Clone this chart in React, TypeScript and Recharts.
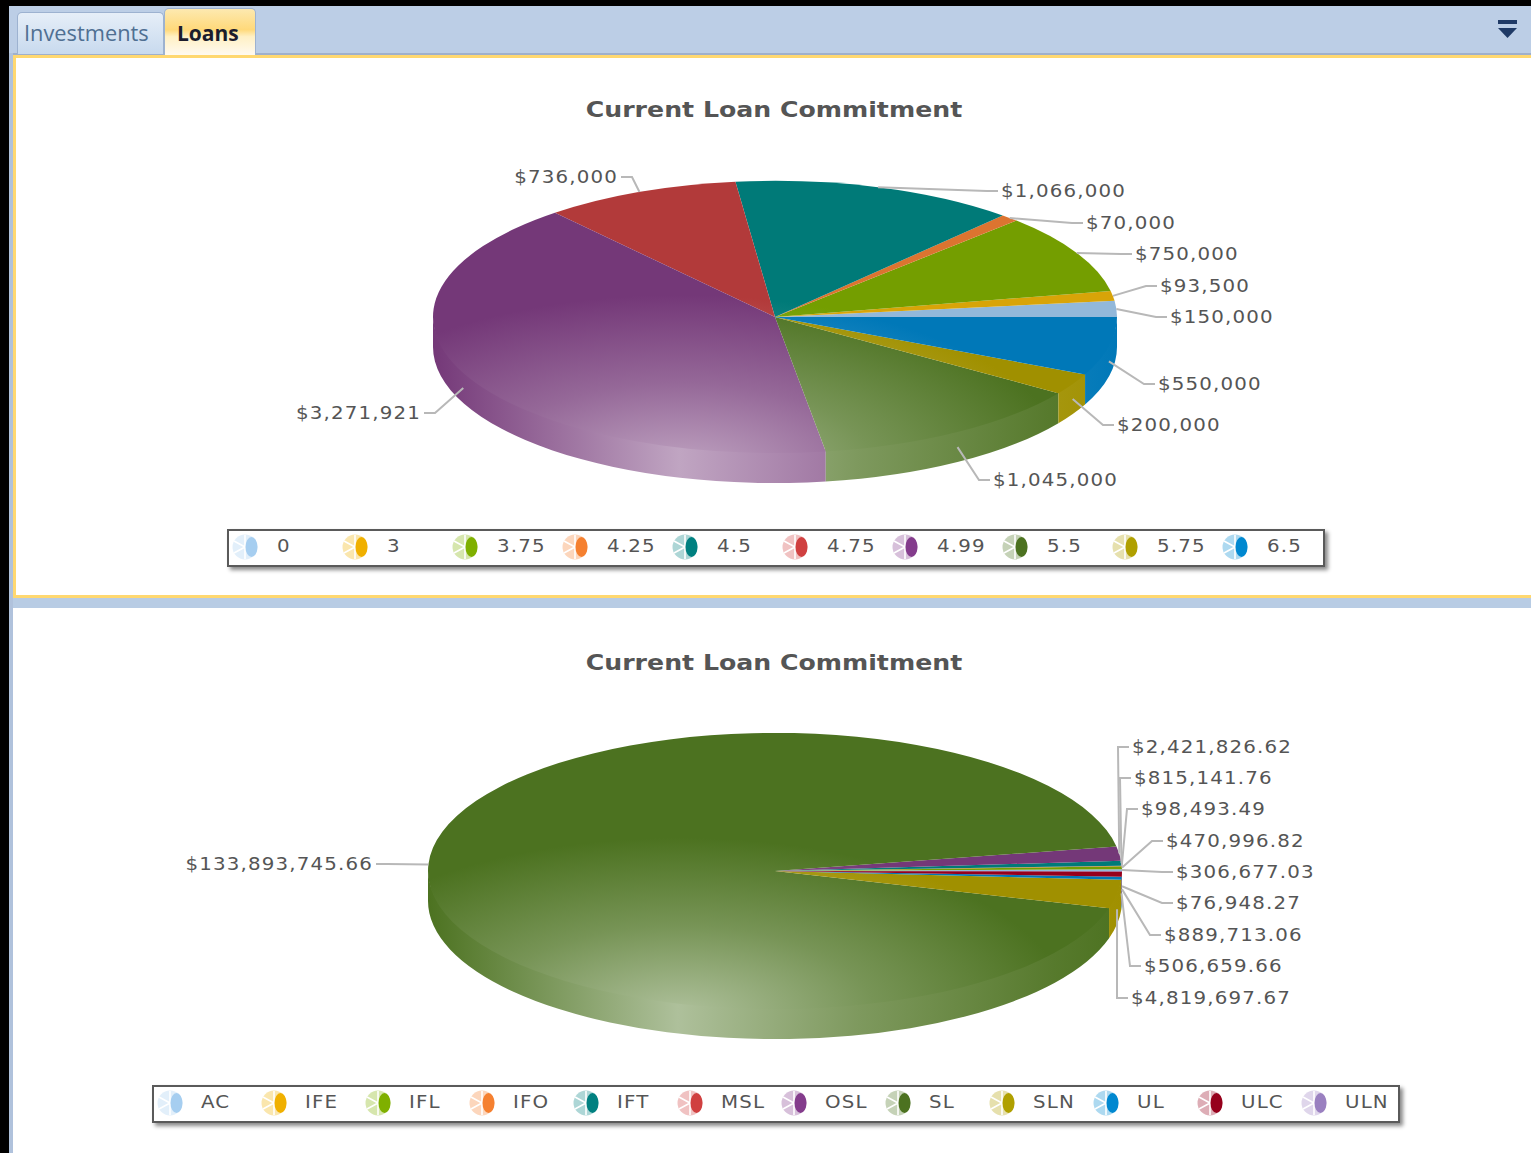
import React from "react";
import { PieChart, Pie, Legend } from "recharts";

const rateNames = ["0", "3", "3.75", "4.25", "4.5", "4.75", "4.99", "5.5", "5.75", "6.5"];
const rateValues = [150000, 93500, 750000, 70000, 1066000, 736000, 3271921, 1045000, 200000, 550000];
const rateLabels = ["$150,000", "$93,500", "$750,000", "$70,000", "$1,066,000", "$736,000", "$3,271,921", "$1,045,000", "$200,000", "$550,000"];

const productNames = ["AC", "IFE", "IFL", "IFO", "IFT", "MSL", "OSL", "SL", "SLN", "UL", "ULC", "ULN"];
const productValues = [306677.03, 0, 470996.82, 98493.49, 815141.76, 0, 2421826.62, 133893745.66, 4819697.67, 506659.66, 889713.06, 76948.27];
const productLabels = ["$306,677.03", "", "$470,996.82", "$98,493.49", "$815,141.76", "", "$2,421,826.62", "$133,893,745.66", "$4,819,697.67", "$506,659.66", "$889,713.06", "$76,948.27"];

const sliceColors = ["#92b8da", "#d8a408", "#749e00", "#dc7430", "#007a78", "#b23a3a", "#743878", "#4c7220", "#a09000", "#0078b8", "#96001c", "#8a74b4"];
const legendColors = ["#a6cef0", "#f0b000", "#7fb000", "#f58030", "#008080", "#d04040", "#843c8c", "#4c7220", "#b0a000", "#0088d0", "#96001c", "#9a80c0"];

// Layout of the outside labels (screen position of the text start / end), by slice
const rateSlots: [number, number, string][] = [
  [1170, 323, "start"], [1160, 292, "start"], [1135, 260, "start"], [1086, 229, "start"], [1001, 197, "start"],
  [618, 183, "end"], [421, 419, "end"], [993, 486, "start"], [1117, 431, "start"], [1158, 390, "start"],
];
const productSlots: ([number, number, string] | null)[] = [
  [1176, 270, "start"], null, [1166, 239, "start"], [1141, 207, "start"], [1134, 176, "start"], null,
  [1132, 145, "start"], [373, 262, "end"], [1131, 396, "start"], [1144, 364, "start"], [1164, 333, "start"], [1176, 301, "start"],
];

const RATIO = 0.398;
const DEPTH = 30;
const FONT = "'DejaVu Sans', sans-serif";

const mix = (hex: string, t: number) => {
  const n = parseInt(hex.slice(1), 16);
  const c = [(n >> 16) & 255, (n >> 8) & 255, n & 255].map((v) => Math.round(v + (255 - v) * t));
  return `rgb(${c[0]},${c[1]},${c[2]})`;
};

const pt = (cx: number, cy: number, r: number, a: number) => {
  const rad = (a * Math.PI) / 180;
  return [cx + r * Math.cos(rad), cy - r * RATIO * Math.sin(rad)];
};

const TopShape = (p: any) => {
  const { cx, cy, outerRadius: r, startAngle: a, endAngle: b, fill } = p;
  if (Math.abs(b - a) < 1e-6) return <g />;
  const [x1, y1] = pt(cx, cy, r, a);
  const [x2, y2] = pt(cx, cy, r, b);
  const large = b - a > 180 ? 1 : 0;
  return <path d={`M${cx},${cy}L${x1},${y1}A${r},${r * RATIO} 0 ${large} 0 ${x2},${y2}Z`} fill={fill} stroke="none" />;
};

const WallShape = (p: any) => {
  const { cx, cy, outerRadius: r, startAngle: a, endAngle: b, wall } = p;
  const s = Math.max(a, 180);
  const e = Math.min(b, 360);
  if (s >= e) return <g />;
  const [x1, y1] = pt(cx, cy, r, s);
  const [x2, y2] = pt(cx, cy, r, e);
  const ry = r * RATIO;
  const lap = 2; // wall runs slightly under the top face so no seam shows
  return <path d={`M${x1},${y1 - lap}A${r},${ry} 0 0 0 ${x2},${y2 - lap}L${x2},${y2 + DEPTH}A${r},${ry} 0 0 1 ${x1},${y1 + DEPTH}Z`} fill={wall} stroke="none" />;
};

const LeaderLabel = (slots: any[], texts: string[]) => (p: any) => {
  const slot = slots[p.index];
  if (!slot) return <g />;
  const [lx, ly, anchor] = slot;
  const r = p.outerRadius;
  let [ax, ay] = pt(p.cx, p.cy, r, p.midAngle);
  if (p.midAngle > 180) ay += DEPTH / 2;
  const dir = anchor === "start" ? 1 : -1;
  const line = `${ax},${ay} ${lx - dir * 14},${ly - 6} ${lx - dir * 3},${ly - 6}`;
  return (
    <g>
      <polyline points={line} fill="none" stroke="#b8b8b8" strokeWidth={2} />
      <text transform={`translate(${lx} ${ly}) scale(1.1 1)`} textAnchor={anchor} fontFamily={FONT} fontSize={18} letterSpacing={1.06} fill="#555">
        {texts[p.index]}
      </text>
    </g>
  );
};

const LegendIcon = ({ color }: { color: string }) => (
  <svg width={28} height={28} viewBox="0 0 28 28" style={{ display: "block" }}>
    <circle cx={14} cy={14} r={12.5} fill={color} opacity={0.32} />
    <path d="M14 14L3 8M14 14L3 20M14 14V2M14 14V26" stroke="#fff" strokeWidth={1.6} />
    <ellipse cx={20.5} cy={14} rx={6} ry={10} fill={color} />
  </svg>
);

type BoxProps = { payload?: any[]; step: number; textDx: number; iconDx: number; tops: number };
const LegendBox = ({ payload, step, textDx, iconDx, tops }: BoxProps) => {
  const seen = new Set<string>();
  const items = (payload || []).filter((it) => {
    if (seen.has(String(it.value))) return false;
    seen.add(String(it.value));
    return true;
  });
  return (
    <div style={{ position: "relative", width: "100%", height: "100%", boxSizing: "border-box", background: "#fff", border: "2px solid #5a5a5a", boxShadow: "3px 3px 4px #8a8a8a" }}>
      {items.map((item, i) => (
        <div key={i}>
          <div style={{ position: "absolute", left: iconDx + i * step - 14, top: tops - 14 }}>
            <LegendIcon color={legendColors[i]} />
          </div>
          <span style={{ position: "absolute", left: iconDx + i * step + textDx, top: tops - 13, fontFamily: FONT, fontSize: 18, letterSpacing: 1.06, transform: "scaleX(1.1)", transformOrigin: "0 50%", color: "#555", lineHeight: "24px", whiteSpace: "nowrap" }}>
            {item.value}
          </span>
        </div>
      ))}
    </div>
  );
};

const buildRows = (id: string, names: string[], values: number[]) =>
  names.map((name, i) => ({ name, value: values[i], fill: `url(#${id}top${i})`, wall: `url(#${id}wall${i})` }));

const Grads = ({ id, n, hx, hy, lo, hi }: { id: string; n: number; hx: number; hy: number; lo: number; hi: number }) => (
  <defs>
    {sliceColors.slice(0, n).map((c, i) => (
      <React.Fragment key={i}>
        <radialGradient id={`${id}top${i}`} gradientUnits="userSpaceOnUse" cx={0} cy={0} r={1} gradientTransform={`translate(${hx} ${hy}) scale(390 175)`}>
          <stop offset="0" stopColor={mix(c, 0.55)} />
          <stop offset="0.5" stopColor={mix(c, 0.24)} />
          <stop offset="1" stopColor={c} />
        </radialGradient>
        <linearGradient id={`${id}wall${i}`} gradientUnits="userSpaceOnUse" x1={lo} x2={hi} y1={0} y2={0}>
          <stop offset="0" stopColor={c} />
          <stop offset="0.36" stopColor={mix(c, 0.55)} />
          <stop offset="0.62" stopColor={mix(c, 0.28)} />
          <stop offset="0.9" stopColor={mix(c, 0.06)} />
          <stop offset="1" stopColor={c} />
        </linearGradient>
      </React.Fragment>
    ))}
  </defs>
);

const Title = ({ y }: { y: number }) => (
  <text transform={`translate(774 ${y}) scale(1.2 1)`} textAnchor="middle" fontFamily={FONT} fontWeight="bold" fontSize={21} fill="#555">
    Current Loan Commitment
  </text>
);

const ratesRows = buildRows("a", rateNames, rateValues);
const productRows = buildRows("b", productNames, productValues);

const Tab = ({ left, top, width, height, bg, color, bold, text, tx, size }: any) => (
  <div style={{ position: "absolute", left, top, width, height, boxSizing: "border-box", background: bg, border: "1px solid #9db2d0", borderBottom: "none", borderRadius: "5px 5px 0 0" }}>
    <span style={{ position: "absolute", left: tx, top: 54 - top - 36, fontFamily: "'Open Sans', sans-serif", fontWeight: bold ? 700 : 400, fontSize: size, lineHeight: "28px", color, whiteSpace: "nowrap" }}>{text}</span>
  </div>
);

const Rect = ({ l, t, w, h, c }: any) => <div style={{ position: "absolute", left: l, top: t, width: w, height: h, background: c }} />;

export default function App() {
  return (
    <div style={{ position: "absolute", left: 0, top: 0, width: 1531, height: 1153, overflow: "hidden", background: "#fff" }}>
      <Rect l={0} t={0} w={1531} h={6} c="#000" />
      <Rect l={0} t={0} w={9} h={1153} c="#000" />
      <Rect l={9} t={6} w={4} h={1147} c="#b0c2dc" />
      <Rect l={9} t={6} w={1522} h={47} c="#bccee6" />
      <Rect l={13} t={53} w={1518} h={2} c="#9fb0cc" />
      <Rect l={13} t={55} w={1518} h={3} c="#ffd870" />
      <Rect l={13} t={55} w={3} h={543} c="#ffd870" />
      <Rect l={13} t={595} w={1518} h={3} c="#ffd870" />
      <Rect l={13} t={598} w={1518} h={10} c="#b8cce4" />
      <Tab left={17} top={12} width={147} height={42} bg="linear-gradient(#e6eef8,#c8daee)" color="#4f6f92" text="Investments" tx={6} size={21.8} />
      <Tab left={164} top={8} width={92} height={47} bg="linear-gradient(#fde9b0 0%,#ffd97a 45%,#fff0c4 60%,#fffaf0 100%)" color="#1c1c2c" bold text="Loans" tx={12} size={21} />
      <Rect l={1498} t={20} w={19} h={3.5} c="#1f3a66" />
      <svg style={{ position: "absolute", left: 1498, top: 28 }} width={19} height={10}><path d="M0 0H19L9.5 10Z" fill="#1f3a66" /></svg>

      <div style={{ position: "absolute", left: 0, top: 0 }}>
        <PieChart width={1531} height={598} margin={{ top: 0, right: 0, bottom: 0, left: 0 }}>
          <Grads id="a" n={10} hx={680} hy={470} lo={433} hi={1117} />
          <Title y={117} />
          <Pie data={ratesRows} dataKey="value" nameKey="name" cx={775} cy={317} outerRadius={342} startAngle={0} endAngle={360} stroke="none" legendType="none" isAnimationActive={false} shape={WallShape} label={false} labelLine={false} />
          <Pie data={ratesRows} dataKey="value" nameKey="name" cx={775} cy={317} outerRadius={342} startAngle={0} endAngle={360} stroke="none" isAnimationActive={false} shape={TopShape} labelLine={false} label={LeaderLabel(rateSlots, rateLabels)} />
          <Legend wrapperStyle={{ position: "absolute", left: 227, top: 529, width: 1098, height: 38, bottom: "auto" }} content={(props: any) => <LegendBox payload={props.payload} step={110} textDx={32} iconDx={16} tops={16} />} />
        </PieChart>
      </div>

      <div style={{ position: "absolute", left: 0, top: 608 }}>
        <PieChart width={1531} height={545} margin={{ top: 0, right: 0, bottom: 0, left: 0 }}>
          <Grads id="b" n={12} hx={680} hy={405} lo={428} hi={1122} />
          <Title y={62} />
          <Pie data={productRows} dataKey="value" nameKey="name" cx={775} cy={263} outerRadius={347} startAngle={0} endAngle={360} stroke="none" legendType="none" isAnimationActive={false} shape={WallShape} label={false} labelLine={false} />
          <Pie data={productRows} dataKey="value" nameKey="name" cx={775} cy={263} outerRadius={347} startAngle={0} endAngle={360} stroke="none" isAnimationActive={false} shape={TopShape} labelLine={false} label={LeaderLabel(productSlots, productLabels)} />
          <Legend wrapperStyle={{ position: "absolute", left: 152, top: 477, width: 1248, height: 38, bottom: "auto" }} content={(props: any) => <LegendBox payload={props.payload} step={104} textDx={31} iconDx={16} tops={16} />} />
        </PieChart>
      </div>
    </div>
  );
}
